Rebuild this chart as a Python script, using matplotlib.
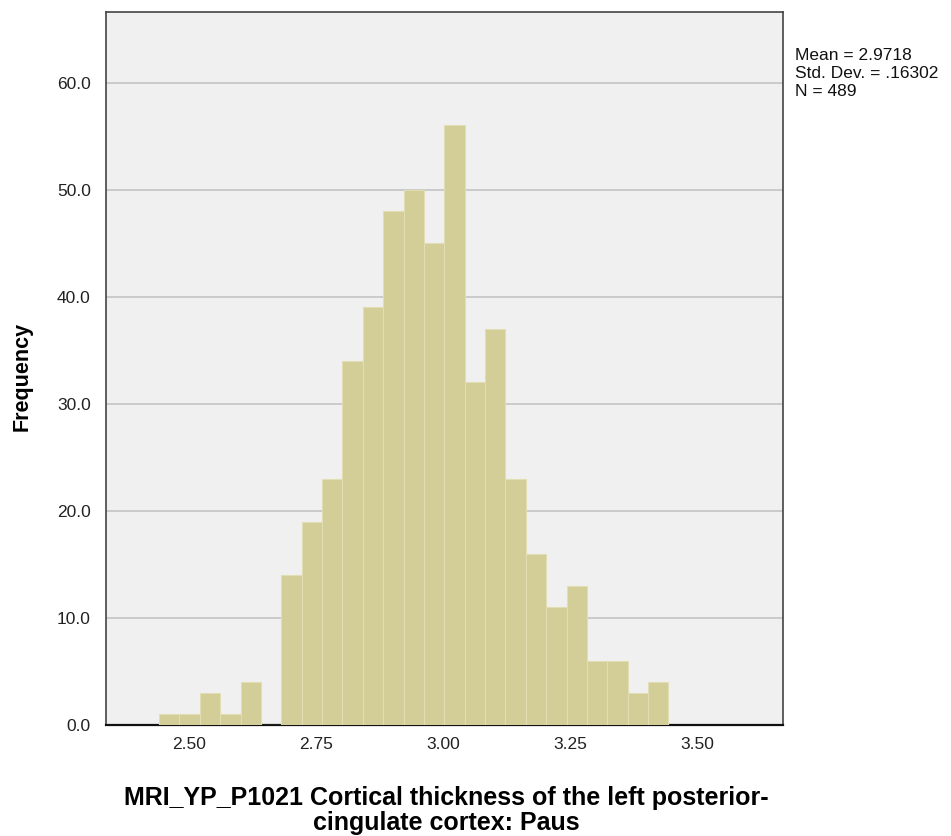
import matplotlib
matplotlib.use("Agg")
import matplotlib.pyplot as plt
import numpy as np

plt.rcParams['font.family'] = ['Liberation Sans', 'DejaVu Sans']

# Histogram data
bin_start = 2.441
bin_width = 0.0401
counts = [1, 1, 3, 1, 4, 0, 14, 19, 23, 34, 39, 48, 50, 45, 56, 32, 37, 23, 16, 11, 13, 6, 6, 3, 4]
x_ticks = [2.50, 2.75, 3.00, 3.25, 3.50]
x_tick_labels = ["2.50", "2.75", "3.00", "3.25", "3.50"]
y_ticks = [0, 10, 20, 30, 40, 50, 60]
stats_text = "Mean = 2.9718\nStd. Dev. = .16302\nN = 489"
x_label = "MRI_YP_P1021 Cortical thickness of the left posterior-\ncingulate cortex: Paus"
y_label = "Frequency"

edges = bin_start + bin_width * np.arange(len(counts) + 1)

fig = plt.figure(figsize=(9.51, 8.36), dpi=100)
ax = fig.add_axes([0.1115, 0.1328, 0.7119, 0.8529])
ax.set_facecolor('#F0F0F0')

ax.bar(edges[:-1], counts, width=bin_width, align='edge',
       color='#D3CE97', edgecolor='#E2DEB4', linewidth=0.8, zorder=3)

ax.set_xlim(2.3366, 3.669)
ax.set_ylim(0, 66.6)
ax.set_yticks(y_ticks)
ax.set_yticklabels([f"{v:.1f}" for v in y_ticks])
ax.set_xticks(x_ticks)
ax.set_xticklabels(x_tick_labels)
ax.tick_params(axis='both', length=0, labelsize=12.5, colors='#222222')
ax.tick_params(axis='y', pad=11)
ax.tick_params(axis='x', pad=9)
ax.yaxis.grid(True, color='#C4C4C4', linewidth=1.2, zorder=1)
ax.set_axisbelow(True)

for s in ['top', 'right', 'left']:
    ax.spines[s].set_color('#444444')
    ax.spines[s].set_linewidth(1.2)
ax.spines['bottom'].set_color('#111111')
ax.spines['bottom'].set_linewidth(1.6)

ax.set_ylabel(y_label, fontsize=15.5, fontweight='bold')
ax.yaxis.set_label_coords(-0.109, 0.489)
ax.set_xlabel(x_label, fontsize=18, fontweight='bold', linespacing=1.03)
ax.xaxis.set_label_coords(0.502, -0.086)

fig.text(795 / 951, 1 - 48 / 836, stats_text, fontsize=12.5, va='top', ha='left',
         linespacing=1.26, color='#111111')

fig.savefig('out.png', dpi=100, facecolor='white')
